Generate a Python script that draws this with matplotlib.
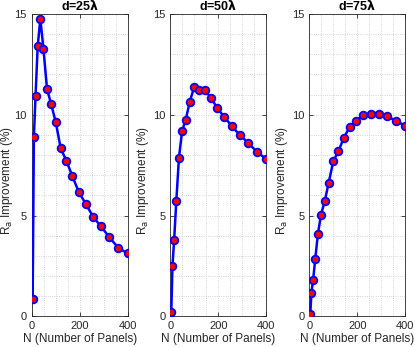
import numpy as np
import matplotlib.pyplot as plt
from matplotlib.ticker import MultipleLocator

plt.rcParams['font.family'] = ['Liberation Sans', 'DejaVu Sans']

# number of panels (k^2, k = 2..20)
n_panels = [4, 9, 16, 25, 36, 49, 64, 81, 100, 121, 144, 169, 196, 225, 256, 289, 324, 361, 400]

# Ra improvement (%)
imp_25 = [0.87, 8.88, 10.95, 13.40, 14.76, 13.25, 11.26, 10.53, 9.64, 8.33,
          7.73, 6.97, 6.17, 5.59, 4.94, 4.46, 3.92, 3.40, 3.13]
imp_50 = [0.20, 2.52, 3.80, 5.73, 7.87, 9.18, 9.75, 10.64, 11.40, 11.23,
          11.21, 10.85, 10.32, 9.89, 9.44, 9.00, 8.61, 8.16, 7.80]
imp_75 = [0.13, 1.18, 1.83, 2.87, 4.11, 5.05, 5.70, 6.64, 7.70, 8.18,
          8.86, 9.41, 9.71, 9.97, 10.05, 10.05, 9.94, 9.69, 9.45]

titles = [r'd=25$\mathbf{\lambda}$', r'd=50$\mathbf{\lambda}$', r'd=75$\mathbf{\lambda}$']
series = [imp_25, imp_50, imp_75]

fig = plt.figure(figsize=(4.15, 3.47), dpi=100)
lefts = [0.0764, 0.4104, 0.7453]
label_x = [-0.17, -0.205, -0.205]
axcol = '#262626'

for left, lx, ys, title in zip(lefts, label_x, series, titles):
    ax = fig.add_axes([left, 0.088, 0.2313, 0.872])
    ax.plot(n_panels, ys, '-o', color='blue', lw=1.8, ms=5.5,
            mfc='red', mec='blue', mew=1.3, zorder=3)
    ax.set_xlim(0, 400)
    ax.set_ylim(0, 15)
    ax.set_xticks([0, 200, 400])
    ax.set_yticks([0, 5, 10, 15])
    ax.xaxis.set_minor_locator(MultipleLocator(50))
    ax.yaxis.set_minor_locator(MultipleLocator(1))
    ax.grid(True, which='both', ls=':', lw=0.6, color='#c8c8c8')
    ax.tick_params(which='both', direction='in', top=True, right=True,
                   labelsize=8, colors=axcol, length=3, width=0.6)
    ax.tick_params(which='minor', length=0)
    for s in ax.spines.values():
        s.set_color(axcol)
        s.set_linewidth(0.6)
    ax.set_title(title, fontsize=9, fontweight='bold', pad=3, color='black')
    ax.set_xlabel('N (Number of Panels)', fontsize=8.5, color=axcol, labelpad=1)
    ax.set_ylabel(r'R$_{\rm a}$ Improvement (%)', fontsize=8.5, color=axcol)
    ax.yaxis.set_label_coords(lx, 0.45)

fig.savefig('out.png', dpi=100)
